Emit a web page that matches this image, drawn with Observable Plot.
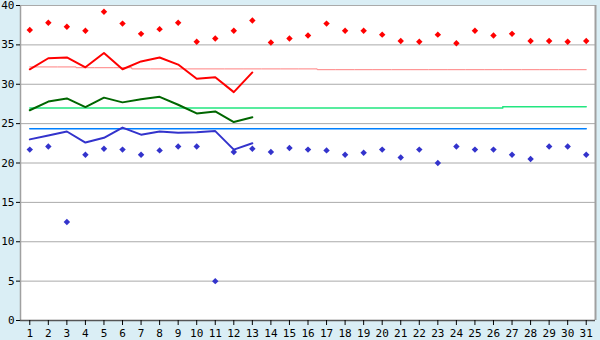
<!DOCTYPE html>
<html>
<head>
<meta charset="utf-8">
<script src="https://cdn.jsdelivr.net/npm/d3@7"></script>
<script src="https://cdn.jsdelivr.net/npm/@observablehq/plot@0.6"></script>
<style>
  html, body { margin: 0; padding: 0; background: #DAEEF5; }
  #chart { width: 600px; height: 340px; }
</style>
</head>
<body>
<div id="chart"></div>
<script>
const days = [1,2,3,4,5,6,7,8,9,10,11,12,13,14,15,16,17,18,19,20,21,22,23,24,25,26,27,28,29,30,31];
const yTicks = [0,5,10,15,20,25,30,35,40];

// scatter: daily maxima (red) and minima (blue)
const maxPoints = [36.9,37.8,37.3,36.8,39.2,37.7,36.4,37.0,37.8,35.4,35.8,36.8,38.1,35.3,35.8,36.2,37.7,36.8,36.8,36.3,35.5,35.4,36.3,35.2,36.8,36.2,36.4,35.5,35.5,35.4,35.5];
const minPoints = [21.7,22.1,12.5,21.05,21.8,21.7,21.05,21.6,22.1,22.1,5.0,21.4,21.8,21.4,21.9,21.7,21.6,21.05,21.3,21.7,20.7,21.7,20.0,22.1,21.7,21.7,21.05,20.5,22.1,22.1,21.05];

// lines for days 1-13
const lineDays = [1,2,3,4,5,6,7,8,9,10,11,12,13];
const redLine = [31.9,33.3,33.4,32.15,33.97,31.9,32.9,33.4,32.5,30.7,30.9,29.0,31.5];
const greenLine = [26.7,27.8,28.2,27.1,28.3,27.7,28.1,28.4,27.4,26.3,26.55,25.2,25.8];
const blueLine = [23.0,23.5,24.0,22.6,23.2,24.5,23.6,24.0,23.85,23.9,24.05,21.7,22.5];

// reference (normal) lines, per day
const redNormal = [32.2,32.2,32.2,32.1,32.1,32.1,31.95,31.95,31.95,31.95,31.95,31.95,31.95,31.95,31.95,31.95,31.85,31.85,31.85,31.85,31.85,31.85,31.85,31.85,31.85,31.85,31.85,31.85,31.85,31.85,31.85];
const greenNormal = [27.0,27.0,27.0,27.0,27.0,27.0,27.0,27.0,27.0,27.0,27.0,27.0,27.0,27.0,27.0,27.0,27.0,27.0,27.0,27.0,27.0,27.0,27.0,27.0,27.0,27.0,27.15,27.15,27.15,27.15,27.15];
const blueNormal = [24.35,24.35,24.35,24.35,24.35,24.35,24.35,24.35,24.35,24.35,24.35,24.35,24.35,24.35,24.35,24.35,24.35,24.35,24.35,24.35,24.35,24.35,24.35,24.35,24.35,24.35,24.35,24.35,24.35,24.35,24.35];

const maxData = days.map((d, i) => ({day: d, v: maxPoints[i]}));
const minData = days.map((d, i) => ({day: d, v: minPoints[i]}));
const lineData = (arr) => lineDays.map((d, i) => ({day: d, v: arr[i]}));
const normData = (arr) => days.map((d, i) => ({day: d, v: arr[i]}));

const chart = Plot.plot({
  width: 600,
  height: 340,
  marginLeft: 20,
  marginRight: 5,
  marginTop: 5,
  marginBottom: 20,
  style: {background: "#DAEEF5", fontFamily: "'DejaVu Sans Mono', monospace", fontSize: "11px", color: "#000"},
  x: {domain: [0.5, 31.5], axis: null, label: null},
  y: {domain: [0, 40], axis: null, label: null},
  marks: [
    Plot.frame({fill: "white", stroke: "none"}),
    Plot.ruleY(yTicks, {stroke: "#AAAAAA", strokeWidth: 1}),
    Plot.ruleX([31.5], {stroke: "#A0A0A0", strokeWidth: 2}),
    Plot.ruleX([0.5], {stroke: "#A0A0A0", strokeWidth: 1.5}),
    Plot.ruleY([0], {stroke: "#555555", strokeWidth: 1.5}),
    Plot.axisX({ticks: days, tickSize: 5, tickPadding: 4, tickFormat: d => String(d), stroke: "#000", label: null}),
    Plot.axisY({ticks: yTicks, tickSize: 4, tickPadding: 2, tickFormat: d => String(d), stroke: "#000", label: null}),
    Plot.line(normData(redNormal), {x: "day", y: "v", stroke: "#FF8080", strokeWidth: 1, curve: "step"}),
    Plot.line(normData(greenNormal), {x: "day", y: "v", stroke: "#22E680", strokeWidth: 1.5, curve: "step"}),
    Plot.line(normData(blueNormal), {x: "day", y: "v", stroke: "#0080FF", strokeWidth: 1.5, curve: "step"}),
    Plot.line(lineData(redLine), {x: "day", y: "v", stroke: "#FF0000", strokeWidth: 2}),
    Plot.line(lineData(greenLine), {x: "day", y: "v", stroke: "#006600", strokeWidth: 2}),
    Plot.line(lineData(blueLine), {x: "day", y: "v", stroke: "#3333CC", strokeWidth: 2}),
    Plot.dot(maxData, {x: "day", y: "v", symbol: "diamond2", r: 2.9, fill: "#FF0000", stroke: "none"}),
    Plot.dot(minData, {x: "day", y: "v", symbol: "diamond2", r: 2.9, fill: "#3333CC", stroke: "none"})
  ]
});
document.getElementById("chart").appendChild(chart);
</script>
</body>
</html>
